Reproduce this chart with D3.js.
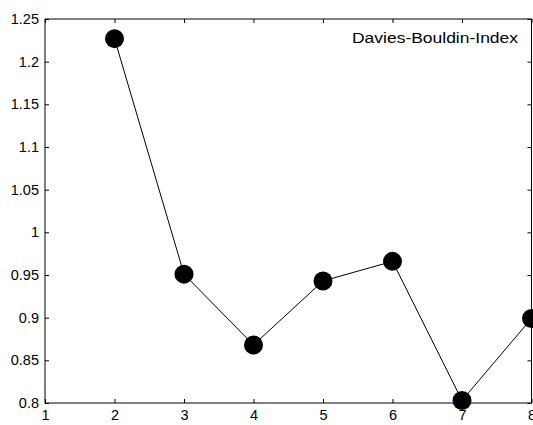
<!DOCTYPE html>
<html>
<head>
<meta charset="utf-8">
<script src="https://d3js.org/d3.v7.min.js"></script>
<style>
  body { margin: 0; background: #fff; }
  svg { display: block; font-family: "Liberation Sans", Arial, Helvetica, sans-serif; }
</style>
</head>
<body>
<div id="chart"></div>
<script>
// cluster count and index values
const clusters = [2, 3, 4, 5, 6, 7, 8];
const dbIndex = [1.227, 0.951, 0.868, 0.943, 0.966, 0.803, 0.899];
const xTicks = [1, 2, 3, 4, 5, 6, 7, 8];
const yTicks = [0.8, 0.85, 0.9, 0.95, 1, 1.05, 1.1, 1.15, 1.2, 1.25];
const yTickLabels = ["0.8", "0.85", "0.9", "0.95", "1", "1.05", "1.1", "1.15", "1.2", "1.25"];
const legendLabel = "Davies-Bouldin-Index";

const W = 533, H = 425;
const margin = {top: 19, right: 1.5, bottom: 22, left: 45};
const width = W - margin.left - margin.right,
      height = H - margin.top - margin.bottom;

const svg = d3.select("#chart").append("svg")
    .attr("width", W).attr("height", H);
const g = svg.append("g")
    .attr("transform", `translate(${margin.left},${margin.top})`);

const x = d3.scaleLinear().domain([1, 8]).range([0, width]);
const y = d3.scaleLinear().domain([0.8, 1.25]).range([height, 0]);

// box with inward ticks on all sides
g.append("rect")
    .attr("width", width).attr("height", height)
    .attr("fill", "none").attr("stroke", "#000").attr("stroke-width", 1);

function styleAxis(sel) {
  sel.select(".domain").remove();
  sel.selectAll("line").attr("stroke", "#000");
  sel.selectAll("text").attr("fill", "#000").attr("font-size", 14.5);
}

g.append("g").attr("transform", `translate(0,${height})`)
  .call(d3.axisBottom(x).tickValues(xTicks).tickFormat(d3.format("d"))
        .tickSizeInner(-4).tickSizeOuter(0).tickPadding(7))
  .call(styleAxis);
g.append("g")
  .call(d3.axisTop(x).tickValues(xTicks).tickFormat("")
        .tickSizeInner(-4).tickSizeOuter(0))
  .call(styleAxis);
g.append("g")
  .call(d3.axisLeft(y).tickValues(yTicks).tickFormat((d, i) => yTickLabels[i])
        .tickSizeInner(-4).tickSizeOuter(0).tickPadding(6))
  .call(styleAxis);
g.append("g").attr("transform", `translate(${width},0)`)
  .call(d3.axisRight(y).tickValues(yTicks).tickFormat("")
        .tickSizeInner(-4).tickSizeOuter(0))
  .call(styleAxis);

const pts = clusters.map((c, i) => ({c, v: dbIndex[i]}));

g.append("path")
    .datum(pts)
    .attr("fill", "none").attr("stroke", "#000").attr("stroke-width", 1)
    .attr("d", d3.line().x(d => x(d.c)).y(d => y(d.v)));

g.selectAll("circle.pt").data(pts).join("circle")
    .attr("class", "pt")
    .attr("cx", d => x(d.c)).attr("cy", d => y(d.v))
    .attr("r", 9.5).attr("fill", "#000");

g.append("text")
    .attr("x", width - 13.5).attr("y", 23.7)
    .attr("text-anchor", "end").attr("font-size", 15.5)
    .attr("textLength", 166).attr("lengthAdjust", "spacingAndGlyphs")
    .text(legendLabel);
</script>
</body>
</html>
